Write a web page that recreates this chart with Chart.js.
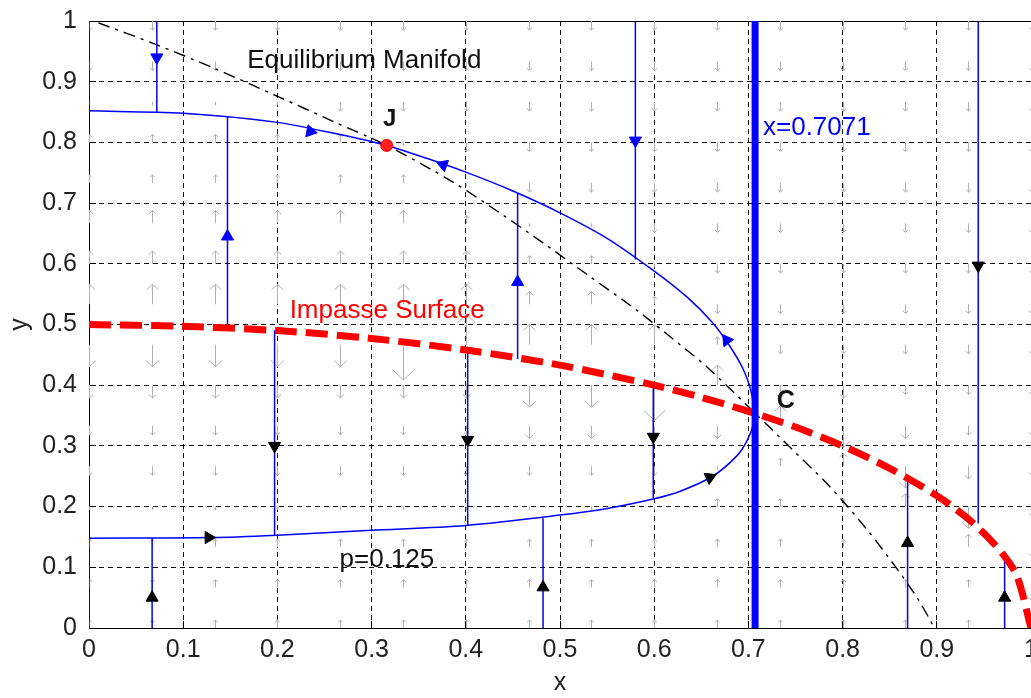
<!DOCTYPE html>
<html>
<head>
<meta charset="utf-8">
<script src="https://cdn.jsdelivr.net/npm/chart.js@4.4.0/dist/chart.umd.min.js"></script>
<style>
  html, body { margin: 0; padding: 0; background: #fff; overflow: hidden; }
  canvas { display: block; }
</style>
</head>
<body>
<canvas id="chart" width="1031" height="698"></canvas>
<script>
// ===== Axis ticks =====
const TICKS = [0, 0.1, 0.2, 0.3, 0.4, 0.5, 0.6, 0.7, 0.8, 0.9, 1];
const TICK_LABELS = ['0', '0.1', '0.2', '0.3', '0.4', '0.5', '0.6', '0.7', '0.8', '0.9', '1'];

// ===== Equilibrium manifold (black dash-dot) =====
const MANIFOLD_X = [0.01, 0.07, 0.133, 0.2, 0.26, 0.316, 0.386, 0.436, 0.486, 0.529, 0.582, 0.62, 0.656, 0.707, 0.744, 0.787, 0.826, 0.858, 0.879, 0.893, 0.897];
const MANIFOLD_Y = [0.997, 0.962, 0.922, 0.876, 0.834, 0.795, 0.735, 0.684, 0.63, 0.582, 0.523, 0.476, 0.43, 0.354, 0.298, 0.232, 0.162, 0.097, 0.05, 0.013, 0];

// ===== Impasse surface (red dashed) =====
const IMPASSE_X = [0, 0.1, 0.2, 0.3, 0.4, 0.5, 0.6, 0.65, 0.7, 0.75, 0.8, 0.85, 0.9, 0.93, 0.95, 0.97, 0.985, 1];
const IMPASSE_Y = [0.5, 0.497, 0.49, 0.477, 0.458, 0.433, 0.4, 0.38, 0.357, 0.331, 0.3, 0.263, 0.218, 0.184, 0.156, 0.122, 0.086, 0];

// ===== Slow trajectory p=0.125 (upper branch -> fold -> lower branch) =====
const TRAJ_X = [0, 0.1, 0.2, 0.26, 0.316, 0.36, 0.4, 0.45, 0.5, 0.55, 0.6, 0.635, 0.662, 0.68, 0.694, 0.702, 0.706, 0.705, 0.699, 0.688, 0.662, 0.627, 0.6, 0.55, 0.5, 0.4, 0.3, 0.2, 0.13, 0];
const TRAJ_Y = [0.852, 0.848, 0.833, 0.815, 0.795, 0.773, 0.751, 0.72, 0.684, 0.642, 0.588, 0.545, 0.503, 0.465, 0.428, 0.395, 0.36, 0.335, 0.31, 0.284, 0.25, 0.225, 0.213, 0.197, 0.186, 0.169, 0.161, 0.153, 0.149, 0.148];

// ===== Fast fibres (vertical segments) =====
const FIBER_X  = [0, 0, 0.072, 0.147, 0.197, 0.067, 0.402, 0.455, 0.482, 0.599, 0.58, 0.869, 0.944, 0.972];
const FIBER_Y0 = [0.852, 0, 1, 0.496, 0.49, 0, 0.458, 0.443, 0, 0.4, 1, 0, 1, 0];
const FIBER_Y1 = [1, 0.148, 0.85, 0.842, 0.152, 0.148, 0.169, 0.716, 0.181, 0.214, 0.607, 0.25, 0.172, 0.11];

// ===== Arrow heads (direction in degrees, 0 = up) =====
const BLUE_HEAD_X = [0.072, 0.147, 0.455, 0.58, 0.235, 0.376, 0.677];
const BLUE_HEAD_Y = [0.94, 0.645, 0.57, 0.803, 0.818, 0.763, 0.474];
const BLUE_HEAD_DIR = [180, 0, 0, 180, 101, -70, -36];
const BLACK_HEAD_X = [0.197, 0.067, 0.402, 0.482, 0.599, 0.869, 0.944, 0.972, 0.659, 0.127];
const BLACK_HEAD_Y = [0.3, 0.05, 0.31, 0.067, 0.315, 0.14, 0.597, 0.05, 0.248, 0.149];
const BLACK_HEAD_DIR = [180, 0, 180, 0, 180, 0, 180, 0, 66, 90];

// ===== Special points =====
const J_X = [0.316];
const J_Y = [0.795];
const FOLD_X = 0.7071;

// ===== Quiver field (grey arrows), columns bottom->top =====
const QUIVER_X = [0, 0.0667, 0.1333, 0.2, 0.2667, 0.3333, 0.4, 0.4667, 0.5333, 0.6, 0.6667, 0.7333, 0.8, 0.8667, 0.9333, 1];
const QUIVER_Y = [0, 0.0667, 0.1333, 0.2, 0.2667, 0.3333, 0.4, 0.4667, 0.5333, 0.6, 0.6667, 0.7333, 0.8, 0.8667, 0.9333, 1];
const QUIVER_COLS = [
  'iii0vvdDUuuii0vv', 'iii0vvdDUuuii0vv', 'iii0vvdDUuuii0vv', 'iii0vvdDUuuii0vv',
  'iii0vvdDUuuiivvv', 'iii0vvdBUuui0vvv', 'iii0vvdWUui0vvvv', 'iii0vdDUui0vvvvv',
  'iii0vdDUui0vvvvv', 'iii0vdBUi0vvvvvv', 'iiii0dUivvvvvvvv', 'iiiiiUdvvvvvvvvv',
  'iiiiuDdvvvvvvvvv', 'iiiuDdvvvvvvvvvv', 'iiuDdvvvvvvvvvvv', 'Bdvvvvvvvvvvvvvv'
];
const QUIVER_LEN = { '0': -0.005, i: 0.013, u: 0.021, U: 0.033, W: 0.05, v: -0.015, d: -0.021, D: -0.036, B: -0.058 };

// ===== Text notes =====
const FONT = "'Liberation Sans', Arial, sans-serif";
const NOTES = [
  { text: 'Equilibrium Manifold', x: 0.168, y: 0.922, color: '#111', font: `26px ${FONT}` },
  { text: 'Impasse Surface', x: 0.213, y: 0.51, color: '#ff0000', font: `26px ${FONT}` },
  { text: 'x=0.7071', x: 0.7155, y: 0.812, color: '#0000ff', font: `26px ${FONT}` },
  { text: 'p=0.125', x: 0.266, y: 0.1, color: '#111', font: `26px ${FONT}` },
  { text: 'J', x: 0.312, y: 0.827, color: '#111', font: `bold 24px ${FONT}` },
  { text: 'C', x: 0.73, y: 0.362, color: '#111', font: `bold 25px ${FONT}` }
];

const pts = (xs, ys) => xs.map((x, i) => ({ x, y: ys[i] }));

const fiberPts = [];
FIBER_X.forEach((fx, i) => {
    fiberPts.push({ x: fx, y: FIBER_Y0[i] }, { x: fx, y: FIBER_Y1[i] }, { x: fx, y: null });
});

// ===== Plugins =====
const framePlugin = {
    id: 'frame',
    beforeDatasetsDraw(chart) {
        const { ctx, chartArea: a } = chart;
        ctx.save();
        ctx.strokeStyle = '#000';
        ctx.lineWidth = 1;
        ctx.strokeRect(a.left + 0.5, a.top + 0.5, a.right - a.left, a.bottom - a.top);
        ctx.restore();
    }
};

const quiverPlugin = {
    id: 'quiver',
    beforeDatasetsDraw(chart) {
        const { ctx, chartArea: a, scales: { x, y } } = chart;
        ctx.save();
        ctx.beginPath();
        ctx.rect(a.left, a.top, a.right - a.left, a.bottom - a.top);
        ctx.clip();
        ctx.strokeStyle = '#b0b0b0';
        ctx.lineWidth = 1;
        QUIVER_X.forEach((qx, i) => {
            const col = QUIVER_COLS[i];
            QUIVER_Y.forEach((qy, j) => {
                const v = QUIVER_LEN[col[j]];
                const px = Math.round(x.getPixelForValue(qx)) + 0.5;
                const p0 = y.getPixelForValue(qy);
                const p1 = y.getPixelForValue(qy + v);
                const len = p1 - p0;
                const s = Math.sign(len);
                const hl = Math.abs(len) * 0.28, hw = Math.abs(len) * 0.3;
                ctx.beginPath();
                ctx.moveTo(px, p0);
                ctx.lineTo(px, p1);
                ctx.moveTo(px - hw, p1 - s * hl);
                ctx.lineTo(px, p1);
                ctx.lineTo(px + hw, p1 - s * hl);
                ctx.stroke();
            });
        });
        ctx.restore();
    }
};

const notesPlugin = {
    id: 'notes',
    afterDatasetsDraw(chart) {
        const { ctx, scales: { x, y } } = chart;
        ctx.save();
        ctx.textBaseline = 'alphabetic';
        ctx.textAlign = 'left';
        NOTES.forEach(n => {
            ctx.font = n.font;
            ctx.fillStyle = n.color;
            ctx.fillText(n.text, x.getPixelForValue(n.x), y.getPixelForValue(n.y));
        });
        ctx.restore();
    }
};

// ===== Chart =====
const tickFont = { family: FONT, size: 25 };

new Chart(document.getElementById('chart'), {
    type: 'scatter',
    data: {
        datasets: [
            { data: pts(BLACK_HEAD_X, BLACK_HEAD_Y), pointStyle: 'triangle', rotation: BLACK_HEAD_DIR,
              pointRadius: 7, backgroundColor: '#000', borderColor: '#000', borderWidth: 1, order: 0 },
            { data: pts(BLUE_HEAD_X, BLUE_HEAD_Y), pointStyle: 'triangle', rotation: BLUE_HEAD_DIR,
              pointRadius: 7, backgroundColor: '#0000ff', borderColor: '#0000ff', borderWidth: 1, order: 0 },
            { data: pts(J_X, J_Y), pointStyle: 'circle', pointRadius: 6,
              backgroundColor: '#ff2020', borderColor: '#ff0000', borderWidth: 1, order: 1 },
            { data: [{ x: FOLD_X, y: 0 }, { x: FOLD_X, y: 1 }], showLine: true, pointRadius: 0,
              borderColor: '#0000ff', borderWidth: 7, borderCapStyle: 'butt', order: 2 },
            { data: pts(IMPASSE_X, IMPASSE_Y), showLine: true, pointRadius: 0, tension: 0.3,
              borderColor: '#ff0000', borderWidth: 7, borderDash: [22, 9], borderCapStyle: 'butt', order: 3 },
            { data: pts(TRAJ_X, TRAJ_Y), showLine: true, pointRadius: 0, tension: 0.3,
              borderColor: '#0000ff', borderWidth: 1.5, order: 4 },
            { data: fiberPts, showLine: true, pointRadius: 0, spanGaps: false,
              borderColor: '#0000ff', borderWidth: 1.5, order: 4 },
            { data: pts(MANIFOLD_X, MANIFOLD_Y), showLine: true, pointRadius: 0, tension: 0.3,
              borderColor: '#000', borderWidth: 1.4, borderDash: [12, 6, 3, 6], order: 5 }
        ]
    },
    options: {
        responsive: false,
        animation: false,
        events: [],
        layout: { autoPadding: false, padding: { top: 21, right: 0, bottom: 0, left: 0 } },
        plugins: { legend: { display: false }, tooltip: { enabled: false } },
        scales: {
            x: {
                type: 'linear', min: 0, max: 1, position: 'bottom',
                afterBuildTicks: s => { s.ticks = TICKS.map(v => ({ value: v })); },
                afterFit: s => { s.height = 70; s.paddingLeft = 0; s.paddingRight = 0; },
                ticks: { callback: (v, i) => TICK_LABELS[i], font: tickFont, color: '#222',
                         padding: 14, maxRotation: 0, autoSkip: false },
                grid: { color: '#111', lineWidth: 1, tickLength: -7, tickColor: '#000' },
                border: { display: true, color: '#000', width: 1, dash: [5, 4] },
                title: { display: true, text: 'x', font: tickFont, color: '#222', padding: { top: 0, bottom: 0 } }
            },
            y: {
                type: 'linear', min: 0, max: 1, position: 'left',
                afterBuildTicks: s => { s.ticks = TICKS.map(v => ({ value: v })); },
                afterFit: s => { s.width = 89; s.paddingTop = 0; s.paddingBottom = 0; },
                ticks: { callback: (v, i) => TICK_LABELS[i], font: tickFont, color: '#222',
                         padding: 19, autoSkip: false },
                grid: { color: '#111', lineWidth: 1, tickLength: -7, tickColor: '#000' },
                border: { display: true, color: '#000', width: 1, dash: [5, 4] },
                title: { display: true, text: 'y', font: tickFont, color: '#222', padding: { top: 5, bottom: 0 } }
            }
        }
    },
    plugins: [framePlugin, quiverPlugin, notesPlugin]
});
</script>
</body>
</html>
